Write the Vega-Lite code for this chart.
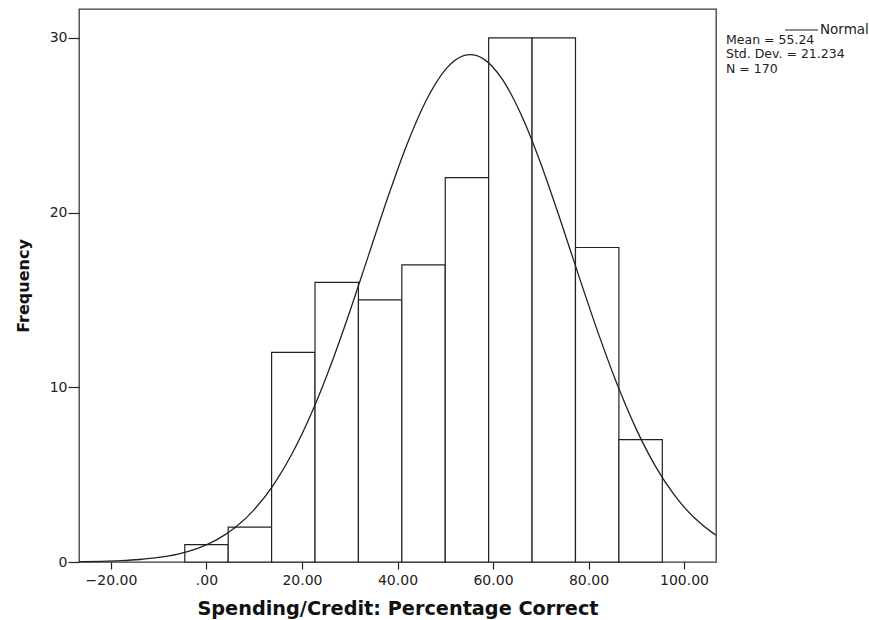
{
  "$schema": "https://vega.github.io/schema/vega-lite/v6.json",
  "width": 637,
  "height": 553,
  "autosize": "none",
  "padding": {"left": 79, "top": 9, "right": 153, "bottom": 58},
  "background": "white",
  "config": {
    "font": "DejaVu Sans",
    "view": {"stroke": "#3a3a3a", "strokeWidth": 1.3},
    "axis": {
      "domain": false,
      "grid": false,
      "tickColor": "#222222",
      "tickWidth": 1.2,
      "labelColor": "#222222",
      "labelFont": "DejaVu Sans",
      "labelFontSize": 14,
      "titleColor": "#111111",
      "titleFont": "DejaVu Sans",
      "titleFontWeight": "bold"
    }
  },
  "datasets": {
    "bins": [
      {"bin_start": -4.545, "bin_end": 4.545, "count": 1},
      {"bin_start": 4.545, "bin_end": 13.636, "count": 2},
      {"bin_start": 13.636, "bin_end": 22.727, "count": 12},
      {"bin_start": 22.727, "bin_end": 31.818, "count": 16},
      {"bin_start": 31.818, "bin_end": 40.909, "count": 15},
      {"bin_start": 40.909, "bin_end": 50.0, "count": 17},
      {"bin_start": 50.0, "bin_end": 59.091, "count": 22},
      {"bin_start": 59.091, "bin_end": 68.182, "count": 30},
      {"bin_start": 68.182, "bin_end": 77.273, "count": 30},
      {"bin_start": 77.273, "bin_end": 86.364, "count": 18},
      {"bin_start": 86.364, "bin_end": 95.455, "count": 7}
    ],
    "curve": [
      {"x": -26.7, "density": 0.016},
      {"x": -26, "density": 0.0192},
      {"x": -22, "density": 0.0389},
      {"x": -18, "density": 0.0758},
      {"x": -14, "density": 0.1426},
      {"x": -10, "density": 0.2589},
      {"x": -6, "density": 0.4537},
      {"x": -2, "density": 0.7676},
      {"x": 2, "density": 1.253},
      {"x": 6, "density": 1.974},
      {"x": 10, "density": 3.001},
      {"x": 14, "density": 4.405},
      {"x": 18, "density": 6.239},
      {"x": 22, "density": 8.528},
      {"x": 26, "density": 11.252},
      {"x": 30, "density": 14.327},
      {"x": 34, "density": 17.608},
      {"x": 38, "density": 20.886},
      {"x": 42, "density": 23.909},
      {"x": 46, "density": 26.416},
      {"x": 50, "density": 28.169},
      {"x": 54, "density": 28.99},
      {"x": 55.24, "density": 29.04},
      {"x": 58, "density": 28.796},
      {"x": 62, "density": 27.605},
      {"x": 66, "density": 25.541},
      {"x": 70, "density": 22.808},
      {"x": 74, "density": 19.656},
      {"x": 78, "density": 16.349},
      {"x": 82, "density": 13.127},
      {"x": 86, "density": 10.17},
      {"x": 90, "density": 7.605},
      {"x": 94, "density": 5.489},
      {"x": 98, "density": 3.823},
      {"x": 102, "density": 2.571},
      {"x": 106, "density": 1.667},
      {"x": 106.7, "density": 1.54}
    ],
    "stats": [
      {"label": "Mean = 55.24\nStd. Dev. = 21.234\nN = 170"}
    ]
  },
  "layer": [
    {
      "data": {"name": "bins"},
      "mark": {"type": "bar", "fill": "white", "stroke": "#222222", "strokeWidth": 1.2},
      "encoding": {
        "x": {
          "field": "bin_start",
          "type": "quantitative",
          "scale": {"domain": [-26.7, 106.7], "nice": false, "zero": false},
          "axis": {
            "values": [-20, 0, 20, 40, 60, 80, 100],
            "labelExpr": "datum.value == 0 ? '.00' : format(datum.value, '.2f')",
            "title": "Spending/Credit: Percentage Correct",
            "titleFontSize": 19.3,
            "titlePadding": 12,
            "tickSize": 7,
            "labelPadding": 4,
            "labelFontSize": 14
          }
        },
        "x2": {"field": "bin_end"},
        "y": {
          "field": "count",
          "type": "quantitative",
          "scale": {"domain": [0, 31.65], "nice": false},
          "axis": {
            "values": [0, 10, 20, 30],
            "format": "d",
            "title": "Frequency",
            "titleFontSize": 16,
            "titlePadding": 18,
            "tickSize": 11,
            "labelPadding": 1,
            "labelFontSize": 14
          }
        },
        "y2": {"datum": 0}
      }
    },
    {
      "data": {"name": "curve"},
      "mark": {"type": "line", "interpolate": "monotone", "strokeWidth": 1.3},
      "encoding": {
        "x": {"field": "x", "type": "quantitative"},
        "y": {"field": "density", "type": "quantitative"},
        "color": {
          "datum": "Normal",
          "scale": {"range": ["#222222"]},
          "legend": {
            "title": null,
            "orient": "none",
            "legendX": 705,
            "legendY": 3.5,
            "symbolType": "stroke",
            "symbolSize": 1089,
            "symbolStrokeWidth": 1.2,
            "labelFont": "DejaVu Sans",
            "labelFontSize": 13.5,
            "labelColor": "#222222",
            "labelOffset": 1
          }
        }
      }
    },
    {
      "data": {"name": "stats"},
      "mark": {"type": "text", "align": "left", "baseline": "alphabetic", "lineBreak": "\n", "font": "DejaVu Sans", "fontSize": 12.5, "lineHeight": 14.5, "color": "#222222"},
      "encoding": {
        "x": {"datum": 108.8, "type": "quantitative"},
        "y": {"datum": 29.65, "type": "quantitative"},
        "text": {"field": "label"}
      }
    }
  ]
}
